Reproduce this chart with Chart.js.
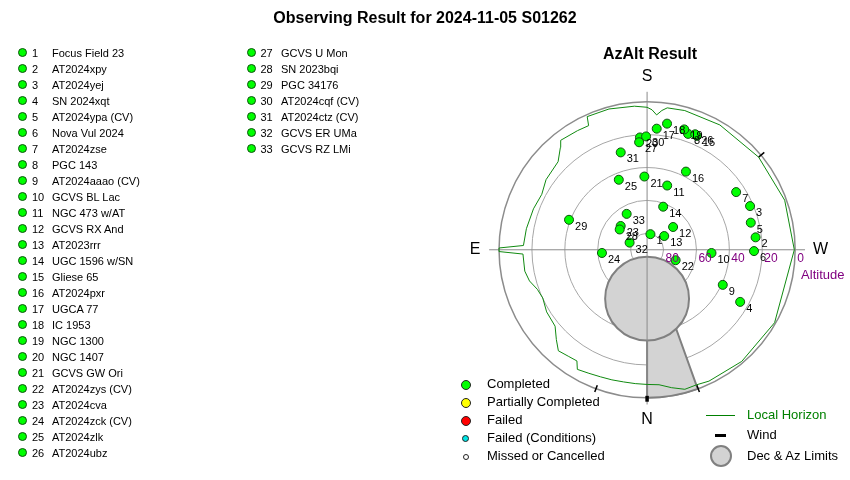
<!DOCTYPE html>
<html>
<head>
<meta charset="utf-8">
<script src="https://cdn.jsdelivr.net/npm/chart.js@4/dist/chart.umd.min.js"></script>
<style>
html,body{margin:0;padding:0;width:850px;height:480px;overflow:hidden;background:#fff;font-family:Arial,"Liberation Sans",sans-serif;}
#wrap{position:relative;width:850px;height:480px;}
#c{position:absolute;left:0;top:0;}
.abs{position:absolute;white-space:nowrap;color:#000;}
.row{position:absolute;height:16px;line-height:16px;font-size:11px;white-space:nowrap;}
.dot{position:absolute;border-radius:50%;box-sizing:border-box;}
</style>
</head>
<body>
<div id="wrap">
<canvas id="c" width="850" height="480"></canvas>
<div class="abs" style="left:0;width:850px;top:9px;text-align:center;font-weight:bold;font-size:16px;line-height:18px;">Observing Result for 2024-11-05 S01262</div>
<div class="abs" style="left:550px;width:200px;top:45px;text-align:center;font-weight:bold;font-size:16px;line-height:18px;">AzAlt Result</div>
<div id="lists"></div>
</div>
<script>
// ---------- data ----------
const targetNames = ["Focus Field 23","AT2024xpy","AT2024yej","SN 2024xqt","AT2024ypa (CV)","Nova Vul 2024","AT2024zse","PGC 143","AT2024aaao (CV)","GCVS BL Lac","NGC 473 w/AT","GCVS RX And","AT2023rrr","UGC 1596 w/SN","Gliese 65","AT2024pxr","UGCA 77","IC 1953","NGC 1300","NGC 1407","GCVS GW Ori","AT2024zys (CV)","AT2024cva","AT2024zck (CV)","AT2024zlk","AT2024ubz","GCVS U Mon","SN 2023bqi","PGC 34176","AT2024cqf (CV)","AT2024ctz (CV)","GCVS ER UMa","GCVS RZ LMi"];
const targetAz  = [192, 263.4, 246.8, 299.5, 255.2, 270.7, 236.8, 199.3, 295.1, 272.9, 197.2, 228.5, 231, 200.3, 203.4, 206.2, 184.5, 188.9, 197, 176.4, 177.9, 290.3, 132.3, 85.9, 158.2, 202.4, 175.8, 126.8, 111.2, 179.5, 165, 112.4, 150.6];
const targetAlt = [80.2, 23.6, 21.9, 25, 24.8, 25, 25.3, 14.6, 39.2, 50.8, 48.7, 68.9, 76.6, 61.8, 13.8, 36.5, 15.4, 11.6, 12.7, 20.9, 45, 71.5, 68.3, 62.5, 43.7, 13.3, 23.8, 69.2, 39.1, 20.4, 28.1, 78.5, 64.7];

const horizonAz  = [0, 5, 10, 15, 20, 25, 30, 32, 36, 41, 45, 50, 58, 65, 70, 75, 80, 88, 89.3, 90.7, 92, 100, 110, 118, 125, 135, 140, 142, 150, 155, 156, 165, 175, 180, 182, 184, 186, 188, 195, 210, 230, 250, 270, 300, 320, 335, 340, 345, 350, 355, 360];
const horizonAlt = [7.3, 7.5, 7.6, 7.3, 7.0, 6.3, 5.2, 9.5, 9.0, 7.8, 12, 17, 18, 20, 19, 16, 14.5, 14.5, 0, 0, 14.8, 15.5, 16.5, 17.5, 15, 13.5, 8, 4.7, 5.5, 5.9, 0.5, 0.5, 1.5, 2.5, 4, 7, 4, 2, 1.5, 1.5, 1.5, 1, 0.5, 0.5, 0.5, 1, 1.8, 1.3, 4, 6.8, 7.3];

const ringAlts = [0, 20, 40, 60, 80];
const altTickLabels = ["80", "60", "40", "20", "0"];
const altTickValues = [80, 60, 40, 20, 0];
const windAz = [230, 20, 340];
const decLimit = {az: 0, alt: 60, radius: 25.5};
const azLimits = [340, 360];

const statusLabels = ["Completed", "Partially Completed", "Failed", "Failed (Conditions)", "Missed or Cancelled"];
const statusColors = ["#00ff00", "#ffff00", "#ff0000", "#00e5e5", "#ffffff"];
const statusSizes = [10, 10, 10, 7, 6];

// ---------- helpers ----------
function toXY(az, alt) {
  const zd = 90 - alt, a = az * Math.PI / 180;
  return {x: -zd * Math.sin(a), y: -zd * Math.cos(a)};
}
const targetPts = targetAz.map((a, i) => toXY(a, targetAlt[i]));
const horizonPts = horizonAz.map((a, i) => toXY(a, horizonAlt[i]));

// ---------- html lists ----------
const lists = document.getElementById('lists');
targetNames.forEach((n, i) => {
  const col = i < 26 ? 0 : 1;
  const r = col === 0 ? i : i - 26;
  const y = 53 + r * 16;
  const dx = col === 0 ? 22 : 251.5;
  const nx = col === 0 ? 32 : 260.5;
  const tx = col === 0 ? 52 : 281;
  const d = document.createElement('div');
  d.className = 'dot';
  d.style.cssText = `left:${dx-4.5}px;top:${y-5.5}px;width:9px;height:9px;background:#00ff00;border:1px solid #105010;`;
  lists.appendChild(d);
  const num = document.createElement('div');
  num.className = 'row'; num.style.left = nx + 'px'; num.style.top = (y - 8) + 'px';
  num.textContent = String(i + 1);
  lists.appendChild(num);
  const nm = document.createElement('div');
  nm.className = 'row'; nm.style.left = tx + 'px'; nm.style.top = (y - 8) + 'px';
  nm.textContent = n;
  lists.appendChild(nm);
});
statusLabels.forEach((s, i) => {
  const y = 383.5 + i * 18;
  const sz = statusSizes[i];
  const d = document.createElement('div');
  d.className = 'dot';
  d.style.cssText = `left:${465.5-sz/2}px;top:${y-sz/2+1}px;width:${sz}px;height:${sz}px;background:${statusColors[i]};border:1px solid #222;`;
  lists.appendChild(d);
  const t = document.createElement('div');
  t.className = 'abs';
  t.style.cssText = `left:487px;top:${y-8}px;font-size:13px;line-height:16px;`;
  t.textContent = s;
  lists.appendChild(t);
});
// right legend
(function(){
  const items = [
    {t:"Local Horizon", y:415, c:"#008000"},
    {t:"Wind", y:435, c:"#000"},
    {t:"Dec & Az Limits", y:456, c:"#000"}
  ];
  items.forEach(it => {
    const t = document.createElement('div');
    t.className = 'abs';
    t.style.cssText = `left:747px;top:${it.y-8}px;font-size:13px;line-height:16px;color:${it.c};`;
    t.textContent = it.t;
    lists.appendChild(t);
  });
  const l = document.createElement('div');
  l.style.cssText = 'position:absolute;left:706px;top:414.5px;width:29px;height:1px;background:#008000;';
  lists.appendChild(l);
  const w = document.createElement('div');
  w.style.cssText = 'position:absolute;left:715px;top:434px;width:11px;height:3px;background:#000;';
  lists.appendChild(w);
  const g = document.createElement('div');
  g.className = 'dot';
  g.style.cssText = 'left:710px;top:445px;width:22px;height:22px;background:#d3d3d3;border:2px solid #808080;';
  lists.appendChild(g);
})();

// ---------- chart ----------
const polarPlugin = {
  id: 'polar',
  beforeDatasetsDraw(chart) {
    const ctx = chart.ctx, xs = chart.scales.x, ys = chart.scales.y;
    const cx = xs.getPixelForValue(0), cy = ys.getPixelForValue(0);
    const u = xs.getPixelForValue(1) - cx;
    const P = (az, alt) => { const p = toXY(az, alt); return [xs.getPixelForValue(p.x), ys.getPixelForValue(p.y)]; };
    ctx.save();
    // rings
    ringAlts.forEach(a => {
      ctx.beginPath();
      ctx.arc(cx, cy, (90 - a) * u, 0, Math.PI * 2);
      ctx.strokeStyle = a === 0 ? '#8c8c8c' : '#a6a6a6';
      ctx.lineWidth = a === 0 ? 1.5 : 1;
      ctx.stroke();
    });
    // az limit wedge
    const R = 90 * u;
    const rad = d => d * Math.PI / 180;
    ctx.beginPath();
    let p0 = P(azLimits[1], decLimit.alt);
    ctx.moveTo(p0[0], p0[1]);
    let p1 = P(azLimits[1], 0);
    ctx.lineTo(p1[0], p1[1]);
    ctx.arc(cx, cy, R, rad(azLimits[1] + 90), rad(azLimits[0] + 90), true);
    let p2 = P(azLimits[0], 40);
    ctx.lineTo(p2[0], p2[1]);
    ctx.closePath();
    ctx.fillStyle = '#d3d3d3';
    ctx.fill();
    ctx.strokeStyle = '#808080';
    ctx.lineWidth = 2;
    ctx.stroke();
    // dec limit circle
    const c = P(decLimit.az, decLimit.alt);
    ctx.beginPath();
    ctx.arc(c[0], c[1], decLimit.radius * u, 0, Math.PI * 2);
    ctx.fillStyle = '#d3d3d3';
    ctx.fill();
    ctx.strokeStyle = '#808080';
    ctx.lineWidth = 2;
    ctx.stroke();
    // crosshair
    ctx.beginPath();
    ctx.moveTo(xs.getPixelForValue(-96), cy); ctx.lineTo(xs.getPixelForValue(96), cy);
    ctx.moveTo(cx, ys.getPixelForValue(97)); ctx.lineTo(cx, ys.getPixelForValue(-95));
    ctx.strokeStyle = '#8a8a8a';
    ctx.lineWidth = 1;
    ctx.stroke();
    // wind ticks
    windAz.forEach(a => {
      const q0 = P(a, 1.5), q1 = P(a, -3);
      ctx.beginPath(); ctx.moveTo(q0[0], q0[1]); ctx.lineTo(q1[0], q1[1]);
      ctx.strokeStyle = '#000'; ctx.lineWidth = 1.5; ctx.stroke();
    });
    // north marker
    const n0 = P(0, 0.3), n1 = P(0, -3.3);
    ctx.beginPath(); ctx.moveTo(n0[0], n0[1]); ctx.lineTo(n1[0], n1[1]);
    ctx.strokeStyle = '#000'; ctx.lineWidth = 3.5; ctx.stroke();
    ctx.restore();
  },
  afterDatasetsDraw(chart) {
    const ctx = chart.ctx, xs = chart.scales.x, ys = chart.scales.y;
    const cx = xs.getPixelForValue(0), cy = ys.getPixelForValue(0);
    const u = xs.getPixelForValue(1) - cx;
    ctx.save();
    // point labels
    const meta = chart.getDatasetMeta(0);
    ctx.font = '11px Arial, "Liberation Sans"';
    ctx.fillStyle = '#000';
    ctx.textAlign = 'left';
    ctx.textBaseline = 'middle';
    meta.data.forEach((el, i) => {
      ctx.fillText(String(i + 1), el.x + 6, el.y + 7);
    });
    // altitude tick labels
    ctx.font = '12px Arial, "Liberation Sans"';
    ctx.fillStyle = '#800080';
    ctx.textBaseline = 'middle';
    altTickValues.forEach((a, i) => {
      ctx.fillText(altTickLabels[i], cx + (90 - a) * u + 2, cy + 9);
    });
    ctx.font = '13px Arial, "Liberation Sans"';
    ctx.fillText('Altitude', cx + 154, cy + 26);
    // compass labels
    ctx.font = '16px Arial, "Liberation Sans"';
    ctx.fillStyle = '#000';
    ctx.textAlign = 'center';
    ctx.fillText('S', cx, ys.getPixelForValue(106.2));
    ctx.fillText('N', cx, ys.getPixelForValue(-104.5));
    ctx.fillText('E', xs.getPixelForValue(-104.5), cy);
    ctx.fillText('W', xs.getPixelForValue(105.5), cy);
    ctx.restore();
  }
};

new Chart(document.getElementById('c'), {
  type: 'scatter',
  data: {
    datasets: [
      {label: 'Completed', data: targetPts, pointRadius: 4.5, pointHoverRadius: 4.5,
       pointBackgroundColor: '#00ff00', pointBorderColor: '#105010', pointBorderWidth: 1, showLine: false},
      {label: 'Local Horizon', data: horizonPts, showLine: true, borderColor: '#108a10', borderWidth: 1,
       pointRadius: 0, tension: 0, fill: false}
    ]
  },
  options: {
    responsive: false,
    animation: false,
    devicePixelRatio: 1,
    layout: {padding: 0},
    plugins: {legend: {display: false}, tooltip: {enabled: false}, title: {display: false}},
    scales: {
      x: {type: 'linear', min: -390, max: 120, display: false},
      y: {type: 'linear', min: -138, max: 150, display: false}
    }
  },
  plugins: [polarPlugin]
});
</script>
</body>
</html>
